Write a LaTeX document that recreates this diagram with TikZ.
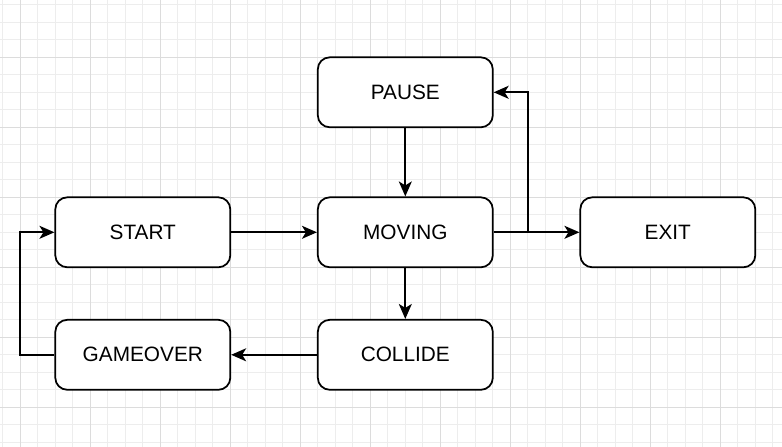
\documentclass[tikz,border=0pt]{standalone}
\usepackage{fontspec}
\setmainfont{Liberation Sans}
\usetikzlibrary{arrows.meta}
\definecolor{gridminor}{HTML}{EDEDED}
\definecolor{gridmajor}{HTML}{DCDCDC}
\tikzset{
  statebox/.style={draw=black, line width=1.75pt, rounded corners=12pt, fill=white,
    minimum width=175pt, minimum height=70pt, inner sep=0pt, align=center,
    font=\fontsize{20.8}{25}\selectfont},
  conn/.style={draw=black, line width=1.75pt, -{Stealth[length=15pt,width=13pt,inset=4pt]}},
  plain/.style={draw=black, line width=1.75pt},
}
\begin{document}
\begin{tikzpicture}[x=1pt,y=-1pt]
\useasboundingbox (0,0) rectangle (782,447);
\fill[white] (0,0) rectangle (782,447);
% minor grid
\foreach \i in {0,...,45} {
  \draw[gridminor, line width=0.8pt] ({2.8+17.5*\i},0) -- ({2.8+17.5*\i},447);
}
\foreach \j in {0,...,26} {
  \draw[gridminor, line width=0.8pt] (0,{4.8+17.5*\j}) -- (782,{4.8+17.5*\j});
}
% major grid
\foreach \i in {0,...,10} {
  \draw[gridmajor, line width=0.8pt] ({20.3+70*\i},0) -- ({20.3+70*\i},447);
}
\foreach \j in {0,...,5} {
  \draw[gridmajor, line width=0.8pt] (0,{57.3+70*\j}) -- (782,{57.3+70*\j});
}
% nodes
\node[statebox] (pause) at (405.3,92.3) {PAUSE};
\node[statebox] (start) at (142.8,232.3) {START};
\node[statebox] (moving) at (405.3,232.3) {MOVING};
\node[statebox] (exit) at (667.8,232.3) {EXIT};
\node[statebox] (gameover) at (142.8,354.8) {GAMEOVER};
\node[statebox] (collide) at (405.3,354.8) {COLLIDE};
\coordinate (br) at (527.8,232.3);
\coordinate (lp) at (20.3,354.8);
% connectors
\draw[conn] (pause) -- (moving);
\draw[conn] (start) -- (moving);
\draw[conn] (moving) -- (exit);
\draw[conn, rounded corners=0pt] (moving.east) -- (br) |- (pause.east);
\draw[conn] (moving) -- (collide);
\draw[conn] (collide) -- (gameover);
\draw[conn] (gameover.west) -- (lp) |- (start.west);
\end{tikzpicture}
\end{document}
